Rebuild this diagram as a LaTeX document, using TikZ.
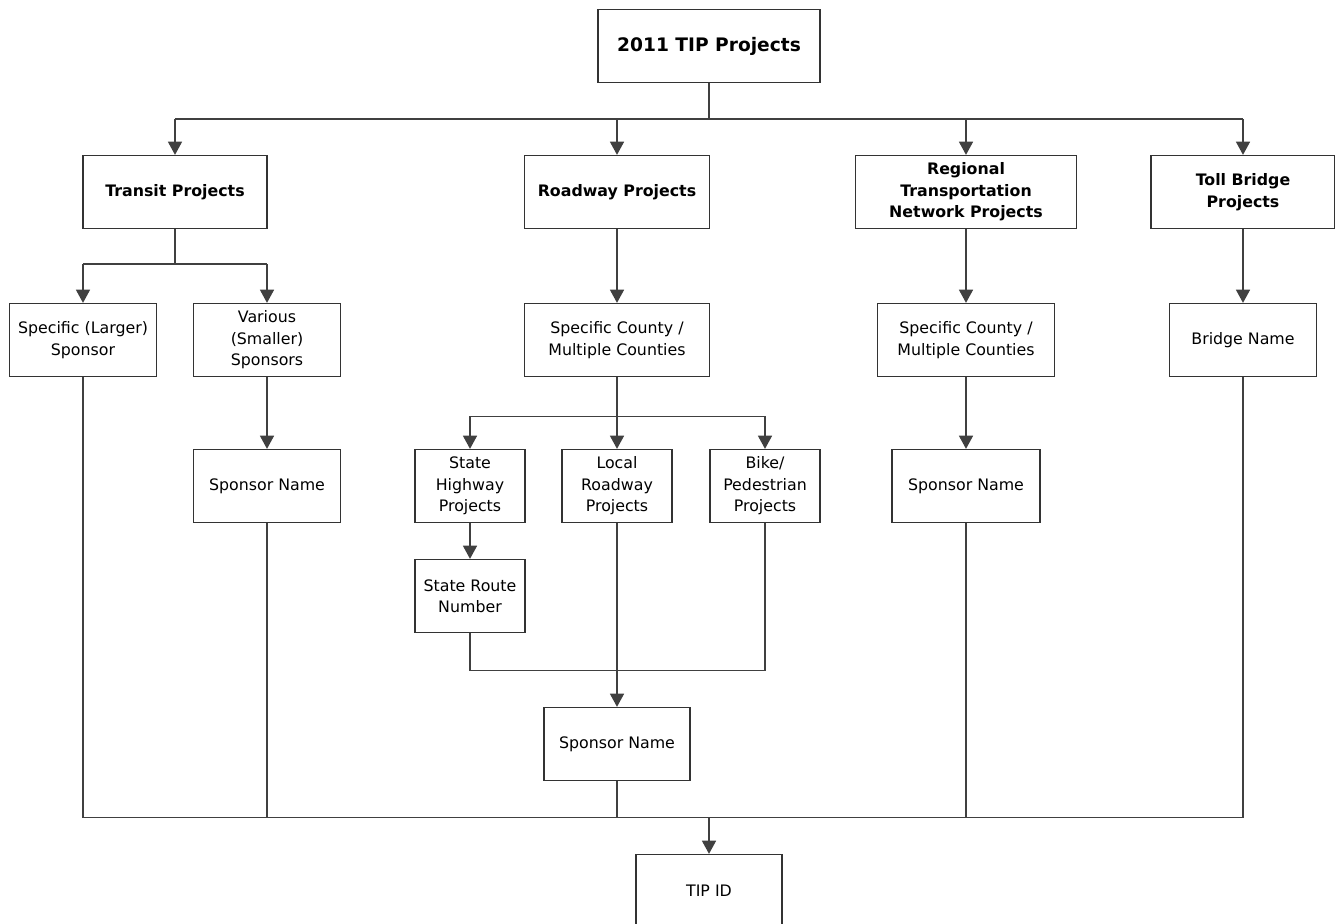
\documentclass[tikz,border=0pt]{standalone}
\usepackage{fontspec}
\setmainfont{DejaVu Sans}
\usetikzlibrary{arrows.meta}

\tikzset{
  box/.style={draw=black!80, line width=0.75pt, align=center, inner sep=2pt,
    minimum height=1.46cm, font=\fontsize{9}{12.2}\selectfont},
  head/.style={font=\fontsize{9}{12.2}\selectfont\bfseries},
  link/.style={draw=black!75, line width=0.75pt},
}

\begin{document}
\begin{tikzpicture}[x=0.02cm,y=-0.02cm,>={Triangle[length=7.5pt,width=8pt]}]
  \useasboundingbox (0,0) rectangle (1335,923);

  % boxes
  \node[box,minimum width=4.44cm,font=\fontsize{10.6}{13}\selectfont\bfseries] (top) at (709,46) {2011 TIP Projects};

  \node[box,head,minimum width=3.68cm] (transit) at (175,192) {Transit Projects};
  \node[box,head,minimum width=3.7cm] (roadway) at (617,192) {Roadway Projects};
  \node[box,head,minimum width=4.42cm] (rtn) at (966,192) {Regional\\Transportation\\Network Projects};
  \node[box,head,minimum width=3.68cm] (toll) at (1243,192) {Toll Bridge\\Projects};

  \node[box,minimum width=2.94cm] (larger) at (83,340) {Specific (Larger)\\Sponsor};
  \node[box,minimum width=2.94cm] (smaller) at (267,340) {Various\\(Smaller)\\Sponsors};
  \node[box,minimum width=3.7cm] (rdcounty) at (617,340) {Specific County /\\Multiple Counties};
  \node[box,minimum width=3.54cm] (rtncounty) at (966,340) {Specific County /\\Multiple Counties};
  \node[box,minimum width=2.94cm] (bridge) at (1243,340) {Bridge Name};

  \node[box,minimum width=2.94cm] (trsponsor) at (267,486) {Sponsor Name};
  \node[box,minimum width=2.2cm] (state) at (470,486) {State\\Highway\\Projects};
  \node[box,minimum width=2.2cm] (local) at (617,486) {Local\\Roadway\\Projects};
  \node[box,minimum width=2.2cm] (bike) at (765,486) {Bike/\\Pedestrian\\Projects};
  \node[box,minimum width=2.96cm] (rtnsponsor) at (966,486) {Sponsor Name};

  \node[box,minimum width=2.2cm] (route) at (470,596) {State Route\\Number};
  \node[box,minimum width=2.92cm] (rdsponsor) at (617,744) {Sponsor Name};
  \node[box,minimum width=2.92cm] (tipid) at (709,891) {TIP ID};

  % top level fan-out
  \path (top.south) ++(0,36) coordinate (j0);
  \draw[link] (top.south) -- (j0);
  \draw[link] (transit.north |- j0) -- (toll.north |- j0);
  \foreach \n in {transit,roadway,rtn,toll}
    \draw[link,->] (\n.north |- j0) -- (\n.north);

  % transit
  \path (transit.south) ++(0,35) coordinate (j1);
  \draw[link] (transit.south) -- (j1);
  \draw[link] (larger.north |- j1) -- (smaller.north |- j1);
  \foreach \n in {larger,smaller}
    \draw[link,->] (\n.north |- j1) -- (\n.north);
  \draw[link,->] (smaller) -- (trsponsor);

  % roadway
  \draw[link,->] (roadway) -- (rdcounty);
  \path (rdcounty.south) ++(0,39) coordinate (j2);
  \draw[link] (rdcounty.south) -- (j2);
  \draw[link] (state.north |- j2) -- (bike.north |- j2);
  \foreach \n in {state,local,bike}
    \draw[link,->] (\n.north |- j2) -- (\n.north);
  \draw[link,->] (state) -- (route);
  \path (route.south) ++(0,37) coordinate (j3);
  \draw[link] (route.south) -- (j3) -- (bike.south |- j3) -- (bike.south);
  \draw[link,->] (local) -- (rdsponsor);

  % regional and toll bridge
  \draw[link,->] (rtn) -- (rtncounty);
  \draw[link,->] (rtncounty) -- (rtnsponsor);
  \draw[link,->] (toll) -- (bridge);

  % collect into TIP ID
  \path (rdsponsor.south) ++(0,36) coordinate (j4);
  \draw[link] (larger.south) -- (larger.south |- j4) -- (bridge.south |- j4) -- (bridge.south);
  \foreach \n in {trsponsor,rdsponsor,rtnsponsor}
    \draw[link] (\n.south) -- (\n.south |- j4);
  \draw[link,->] (tipid.north |- j4) -- (tipid.north);
\end{tikzpicture}
\end{document}
